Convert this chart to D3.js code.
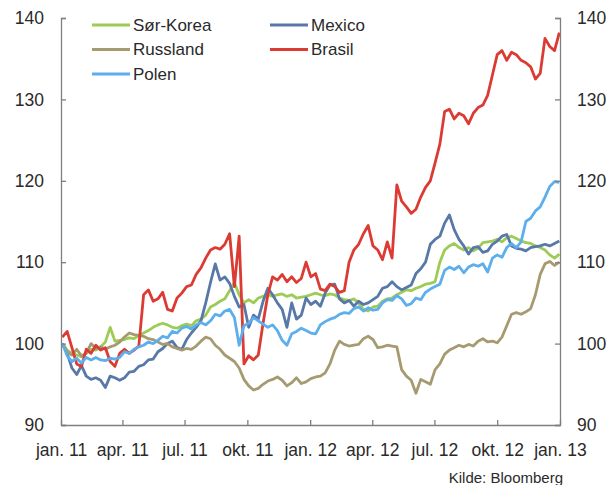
<!DOCTYPE html>
<html>
<head>
<meta charset="utf-8">
<script src="https://cdn.jsdelivr.net/npm/d3@7"></script>
<style>
  body { margin: 0; background: #fff; }
  svg text { font-family: "Liberation Sans", Arial, sans-serif; fill: #2a2a2a; }
</style>
</head>
<body>
<div id="chart"></div>
<script>
// Chart size
const width = 614;
const height = 485;

// Weekly observations, Jan 2011 - Dec 2012 (index, 3 Jan 2011 = 100)
const weeks = d3.timeMonday.range(new Date(2011, 0, 3), new Date(2013, 0, 2));

const sorKorea = [
  100.0, 99.2, 98.8, 98.6, 98.4, 98.8, 99.3, 99.2, 99.6, 100.2,
  102.0, 100.3, 100.4, 100.5, 100.7, 100.6, 101.0, 101.3, 101.6, 102.0,
  102.3, 102.5, 102.3, 102.0, 101.9, 102.2, 102.4, 102.2, 102.8, 103.0,
  103.5, 104.5, 104.8, 105.2, 105.5, 106.5, 107.5, 106.0, 105.0, 105.4,
  105.0, 105.6, 105.8, 106.0, 105.8, 106.0, 106.1, 105.8, 106.0, 105.6,
  105.7, 105.8, 106.0, 106.2, 106.0, 105.9, 106.1, 106.0, 105.6, 105.4,
  105.3, 105.5, 105.0, 104.2, 104.0, 104.5, 104.6, 105.2, 105.5, 105.6,
  106.0, 106.3, 106.6, 106.5, 106.8, 107.0, 107.3, 107.4, 107.6, 110.0,
  111.5, 112.0, 112.3, 111.8, 111.5, 111.8, 111.4, 111.7, 112.4, 112.5,
  112.6, 112.8, 112.5, 113.0, 113.2, 112.9, 112.6, 112.4, 112.3, 112.0,
  111.8, 111.5, 110.9, 110.5, 111.0
];

const mexico = [
  100.0, 98.8, 97.0, 96.2, 97.3, 96.0, 95.6, 95.8, 95.5, 94.6,
  96.0, 95.8, 95.5, 95.8, 96.5, 96.6, 97.2, 97.4, 98.0, 98.1,
  99.0, 99.4, 100.0, 100.3, 99.5, 99.3, 100.5, 101.3, 102.0, 102.8,
  105.0, 107.5, 109.8, 107.8, 108.2, 107.4, 105.8, 104.5, 104.8, 102.0,
  103.5, 103.0, 105.2, 106.8, 106.0, 105.0, 104.2, 102.0, 105.0, 103.0,
  103.5, 105.6, 104.8, 105.2, 104.6, 106.2, 107.2, 107.3, 105.5, 105.0,
  105.3, 104.6, 105.2, 104.8, 105.0, 105.4, 105.8, 106.8, 107.0, 107.6,
  107.0, 106.6, 106.9, 107.2, 108.6, 109.2, 110.0, 112.2, 112.8, 113.2,
  114.8, 115.8, 114.0, 112.8, 112.0, 111.0, 111.8, 111.9, 111.2, 111.4,
  112.2, 112.6, 113.2, 113.4, 112.0, 111.7, 111.6, 111.4, 111.8, 111.9,
  112.0, 112.2, 112.0, 112.3, 112.6
];

const russland = [
  100.0, 99.0, 98.6, 99.3, 98.5, 98.8, 100.0, 99.4, 99.6, 99.3,
  99.6, 99.8, 100.2, 100.8, 101.3, 101.1, 101.0, 100.9, 100.6, 100.5,
  100.2, 99.9, 100.0, 99.6, 99.4, 99.2, 99.4, 99.3, 99.7, 100.3,
  100.8, 100.6, 99.8, 99.3, 98.6, 98.2, 97.8, 97.0, 95.6, 94.8,
  94.3, 94.5, 95.0, 95.4, 95.6, 95.9, 95.5, 94.8, 95.2, 95.8,
  95.1, 95.3, 95.7, 95.9, 96.0, 96.4, 97.5, 99.2, 100.3, 99.9,
  99.7, 99.8, 99.9, 100.6, 100.9, 100.5, 99.5, 99.6, 99.8, 99.7,
  99.6, 96.8, 96.0, 95.5, 93.9, 95.6, 95.3, 95.0, 96.8, 97.5,
  98.7, 99.2, 99.5, 99.8, 99.6, 99.9, 99.7, 100.3, 100.6, 100.2,
  100.3, 100.1, 100.8, 102.2, 103.6, 103.8, 103.6, 103.9, 104.3, 106.0,
  108.5, 109.8, 110.1, 109.6, 110.0
];

const brasil = [
  100.8, 101.5, 99.5, 97.5, 97.2, 99.3, 98.8, 99.8, 99.2, 99.5,
  97.8, 97.2, 98.8, 99.3, 98.8, 99.2, 99.7, 106.0, 106.6, 105.2,
  105.5, 106.3, 104.2, 104.0, 105.6, 106.2, 107.0, 107.2, 108.5, 109.3,
  110.5, 111.5, 111.8, 111.6, 112.2, 113.5, 107.0, 113.2, 97.5, 98.5,
  98.0, 98.6, 102.5, 106.0, 108.2, 107.8, 108.5, 107.6, 108.2, 107.5,
  108.0, 110.0, 108.2, 108.6, 106.7, 106.5, 107.3, 107.0, 106.3, 106.5,
  110.0, 111.5, 112.2, 113.5, 114.5, 112.0, 111.5, 110.3, 112.5, 110.5,
  119.5, 117.5, 116.8, 116.0, 116.5, 118.0, 119.2, 120.0, 122.2, 124.5,
  128.5, 128.8, 127.6, 128.3, 128.0, 127.0, 128.3, 129.0, 129.3, 130.5,
  133.0, 135.5, 136.0, 134.8, 135.8, 135.5, 134.8, 134.5, 134.0, 132.5,
  133.2, 137.5, 136.5, 136.0, 138.2
];

const polen = [
  100.0, 98.5, 97.8, 98.2, 97.6, 98.3, 98.0, 98.3, 98.0, 97.9,
  98.2, 98.1, 98.3, 99.0, 98.8, 99.3, 99.6, 99.8, 100.2, 100.0,
  100.4, 100.9, 100.7, 101.5, 101.3, 101.9, 102.1, 101.8, 102.3, 102.6,
  102.3, 102.8, 103.6, 103.4, 104.0, 104.2, 103.2, 99.8, 102.2, 102.5,
  103.2, 102.8, 102.4, 102.0, 102.3, 101.6, 100.4, 99.8, 101.2, 101.5,
  101.9, 101.6, 101.3, 101.2, 102.3, 102.7, 103.0, 103.2, 103.6, 103.8,
  103.7, 104.3, 104.5, 104.0, 104.4, 104.1, 104.2, 105.0, 105.4, 105.3,
  105.9, 105.5, 104.7, 104.9, 105.6, 105.4, 106.3, 106.7, 107.0, 107.3,
  109.0, 109.4, 109.1, 109.5, 108.7, 109.4, 109.7, 109.5, 109.8, 108.8,
  110.5, 110.9, 110.6, 111.8, 112.3, 111.8, 112.5, 115.0, 115.4, 116.3,
  116.8, 118.0, 119.3, 119.9, 119.8
];

// Axis ticks
const yTicks = [90, 100, 110, 120, 130, 140];
const xTickDates = d3.timeMonth.range(new Date(2011, 0, 1), new Date(2013, 0, 2), 3);
const xTickLabels = ["jan. 11", "apr. 11", "jul. 11", "okt. 11", "jan. 12",
                     "apr. 12", "jul. 12", "okt. 12", "jan. 13"];

// Series in drawing order (legend is filled row by row in two columns)
const seriesNames = ["Sør-Korea", "Mexico", "Russland", "Brasil", "Polen"];
const seriesValues = [sorKorea, mexico, russland, brasil, polen];
const seriesColors = ["#9dcc56", "#5878a8", "#a69b70", "#dc3b34", "#5caeec"];

const svg = d3.select("#chart")
  .append("svg")
  .attr("width", width)
  .attr("height", height);

// Plot area
const plotLeft = 61, plotRight = 560, plotTop = 18, plotBottom = 425;

const x = d3.scaleTime()
  .domain([new Date(2011, 0, 1), new Date(2013, 0, 1)])
  .range([plotLeft, plotRight]);

const y = d3.scaleLinear()
  .domain([90, 140])
  .range([plotBottom, plotTop]);

const line = d3.line()
  .x((d, i) => x(weeks[i]))
  .y(d => y(d));

// Lines
svg.selectAll("path.series")
  .data(seriesValues)
  .enter()
  .append("path")
  .attr("class", "series")
  .attr("d", d => line(d))
  .attr("fill", "none")
  .attr("stroke", (d, i) => seriesColors[i])
  .attr("stroke-width", 2.8)
  .attr("stroke-linejoin", "round");

// Axes
function styleAxis(g) {
  g.select(".domain").attr("stroke", "#7f7f7f").attr("stroke-width", 1.3);
  g.selectAll(".tick line").attr("stroke", "#7f7f7f").attr("stroke-width", 1.3);
  g.selectAll(".tick text")
    .attr("font-size", 17.5)
    .attr("font-family", "Liberation Sans, Arial, sans-serif")
    .attr("fill", "#2a2a2a");
}

svg.append("g")
  .attr("transform", `translate(${plotLeft},0)`)
  .call(d3.axisLeft(y).tickValues(yTicks).tickSize(-5).tickPadding(17).tickSizeOuter(-5))
  .call(styleAxis);

svg.append("g")
  .attr("transform", `translate(${plotRight},0)`)
  .call(d3.axisRight(y).tickValues(yTicks).tickSize(-5).tickPadding(17).tickSizeOuter(-5))
  .call(styleAxis);

svg.append("g")
  .attr("transform", `translate(0,${plotBottom})`)
  .call(d3.axisBottom(x).tickValues(xTickDates).tickSize(-5).tickSizeOuter(0).tickPadding(19)
    .tickFormat((d, i) => xTickLabels[i]))
  .call(styleAxis);

// Legend (two columns, filled row by row)
const legend = svg.append("g");
seriesNames.forEach((name, i) => {
  const col = i % 2, row = Math.floor(i / 2);
  const lx = col === 0 ? 92 : 270;
  const ly = 25 + row * 24.5;
  legend.append("line")
    .attr("x1", lx).attr("x2", lx + 38)
    .attr("y1", ly).attr("y2", ly)
    .attr("stroke", seriesColors[i])
    .attr("stroke-width", 3);
  legend.append("text")
    .attr("x", lx + 41)
    .attr("y", ly)
    .attr("dy", "0.35em")
    .attr("font-size", 17)
    .text(name);
});

// Source
svg.append("text")
  .attr("x", 563)
  .attr("y", 483)
  .attr("text-anchor", "end")
  .attr("font-size", 15)
  .text("Kilde: Bloomberg");
</script>
</body>
</html>
